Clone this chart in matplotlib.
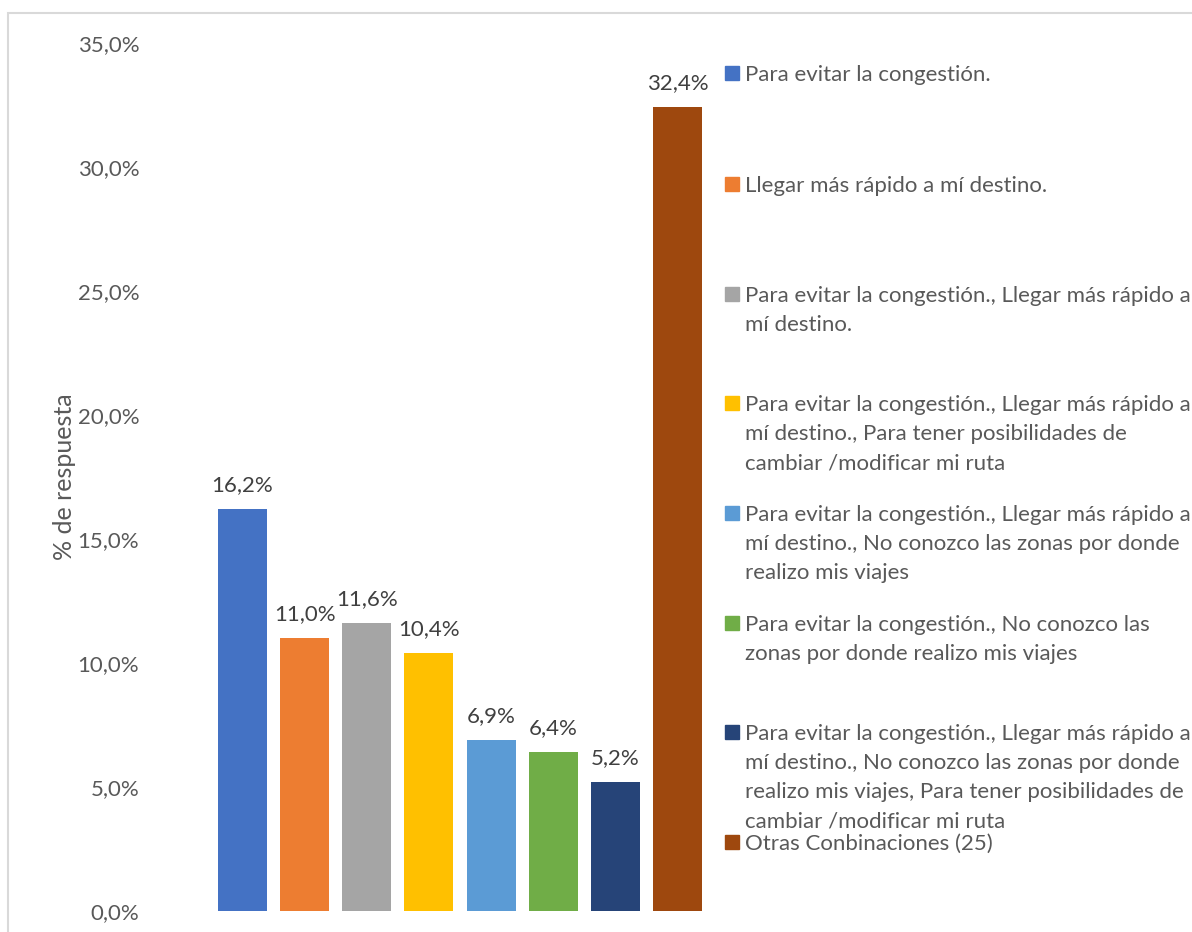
import matplotlib.pyplot as plt
from matplotlib.patches import Rectangle

# respuestas (% de encuestados)
motivos = [
    "Para evitar la congestión.",
    "Llegar más rápido a mí destino.",
    "Para evitar la congestión., Llegar más rápido a\nmí destino.",
    "Para evitar la congestión., Llegar más rápido a\nmí destino., Para tener posibilidades de\ncambiar /modificar mi ruta",
    "Para evitar la congestión., Llegar más rápido a\nmí destino., No conozco las zonas por donde\nrealizo mis viajes",
    "Para evitar la congestión., No conozco las\nzonas por donde realizo mis viajes",
    "Para evitar la congestión., Llegar más rápido a\nmí destino., No conozco las zonas por donde\nrealizo mis viajes, Para tener posibilidades de\ncambiar /modificar mi ruta",
    "Otras Conbinaciones (25)",
]
porcentajes = [16.2, 11.0, 11.6, 10.4, 6.9, 6.4, 5.2, 32.4]
colores = ["#4472C4", "#ED7D31", "#A5A5A5", "#FFC000",
           "#5B9BD5", "#70AD47", "#264478", "#9E480E"]
ticks_y = [0, 5, 10, 15, 20, 25, 30, 35]

W, H = 1192, 932
font = "Lato"
gris = "#595959"

fig = plt.figure(figsize=(W / 100, H / 100), dpi=100)
plt.rcParams['font.family'] = [font, 'DejaVu Sans']

# marco del grafico
fig.patches.append(Rectangle((8 / W, -0.1), 1.2, (H - 13) / H + 0.1, transform=fig.transFigure,
                             fill=False, edgecolor="#D9D9D9", linewidth=1.5))

ax = fig.add_axes([211.5 / W, (H - 911) / H, 497 / W, 868 / H])
x = range(len(porcentajes))
ax.bar(x, porcentajes, width=0.79, color=colores)
ax.set_xlim(-0.5, len(porcentajes) - 0.5)
ax.set_ylim(0, 35)

for i, v in enumerate(porcentajes):
    ax.annotate(f"{v:.1f}%".replace('.', ','), (i, v), xytext=(0, 10), textcoords="offset points",
                ha="center", va="bottom", fontsize=16, color="#404040")

ax.set_yticks(ticks_y)
ax.set_yticklabels([f"{t:.1f}%".replace('.', ',') for t in ticks_y], fontsize=16, color=gris)
ax.tick_params(axis="y", length=0, pad=52)
ax.set_xticks([])
for s in ax.spines.values():
    s.set_visible(False)

ax.set_ylabel("% de respuesta", fontsize=18, color=gris)
ax.yaxis.set_label_coords(-0.273, 0.5)

# leyenda a la derecha
y_entradas = [73, 184, 294, 403, 513, 623, 732, 842]
for lbl, col, y0 in zip(motivos, colores, y_entradas):
    fig.patches.append(Rectangle((725 / W, (H - y0 - 7) / H), 14 / W, 14 / H,
                                 transform=fig.transFigure, color=col))
    for j, linea in enumerate(lbl.split("\n")):
        fig.text(745 / W, (H - (y0 + 8 + 29 * j)) / H, linea, ha="left", va="baseline",
                 fontsize=16, color=gris)

fig.savefig("out.png", dpi=100)
